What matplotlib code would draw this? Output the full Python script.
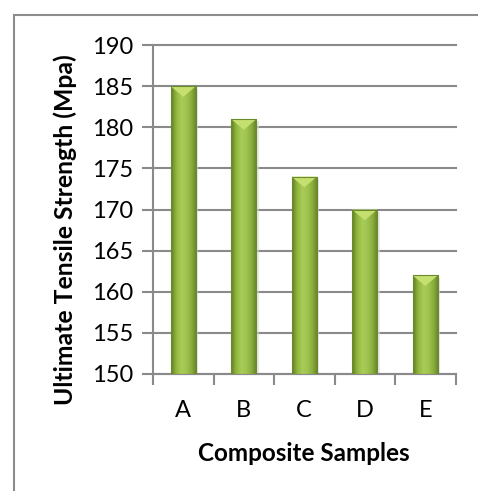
import numpy as np
import matplotlib
matplotlib.use('Agg')
import matplotlib.pyplot as plt
from matplotlib.patches import Rectangle, Polygon
from matplotlib.colors import LinearSegmentedColormap

samples = ['A', 'B', 'C', 'D', 'E']
strength = [185, 181, 174, 170, 162]
yticks = [150, 155, 160, 165, 170, 175, 180, 185, 190]

plt.rcParams['font.family'] = ['Lato', 'DejaVu Sans']

fig = plt.figure(figsize=(4.78, 4.91), dpi=100)
fig.patch.set_facecolor('white')

# outer chart frame (right/bottom edges fall outside picture)
fig.patches.append(Rectangle((14/478, -0.05), 1.2, 1 - 15/491 + 0.05,
                             transform=fig.transFigure, fill=False,
                             edgecolor='#8c8c8c', lw=1.5, zorder=0))

ax = fig.add_axes([153/478, 1 - 374/491, (455.5 - 153)/478, (374 - 45)/491])
ax.set_xlim(-0.5, len(samples) - 0.5)
ax.set_ylim(150, 190)

grid_c = '#8a8a8a'
for y in yticks:
    ax.axhline(y, color=grid_c, lw=1.5, zorder=1, clip_on=False)

# bar gradient (cylinder-like)
cmap = LinearSegmentedColormap.from_list('g', ['#5f7f25', '#93b640', '#a9cc58', '#a0c450', '#8aad3c', '#62822a'])
grad = np.linspace(0, 1, 64).reshape(1, -1)
w = 0.42
x = np.arange(len(samples))
bars = ax.bar(x, np.array(strength) - 150, bottom=150, width=w, color='none', edgecolor='none', zorder=3)
for xi, v, b in zip(x, strength, bars):
    # soft shadow
    ax.add_patch(Rectangle((xi - w/2 + 0.04, 150), w, v - 150 - 0.3, color='#d9d9d9', alpha=0.6, zorder=2, lw=0))
    im = ax.imshow(grad, cmap=cmap, extent=(xi - w/2, xi + w/2, 150, v), aspect='auto', zorder=3)
    im.set_clip_path(b)
    tri = Polygon([(xi - w/2, v), (xi + w/2, v), (xi, v - 1.3)], closed=True,
                  facecolor='#c6e070', edgecolor='none', zorder=4)
    ax.add_patch(tri)
    ax.add_patch(Rectangle((xi - w/2, 150), w, v - 150, fill=False, edgecolor='#6b8a2c', lw=0.8, zorder=5))

ax.set_xlim(-0.5, len(samples) - 0.5)
ax.set_ylim(150, 190)

for s in ['top', 'right']:
    ax.spines[s].set_visible(False)
ax.spines['left'].set_color(grid_c)
ax.spines['left'].set_linewidth(1.5)
ax.spines['bottom'].set_color(grid_c)
ax.spines['bottom'].set_linewidth(1.5)

ax.set_yticks(yticks)
ax.set_yticklabels([str(t) for t in yticks], fontsize=17)
ax.tick_params(axis='y', length=8, width=1.5, color=grid_c, pad=6)

ax.set_xticks(np.arange(-0.5, len(samples), 1.0))
ax.set_xticklabels([])
ax.set_xticks(x, minor=True)
ax.set_xticklabels(samples, minor=True, fontsize=17)
ax.tick_params(axis='x', which='major', length=8, width=1.5, color=grid_c)
ax.tick_params(axis='x', which='minor', length=0, pad=19)

ax.set_ylabel('Ultimate Tensile Strength (Mpa)', fontsize=17.8, fontweight='bold')
ax.yaxis.set_label_coords(-0.25, 0.438)
ax.set_xlabel('Composite Samples', fontsize=17.5, fontweight='bold', labelpad=15)

plt.savefig('out.png', dpi=100)
